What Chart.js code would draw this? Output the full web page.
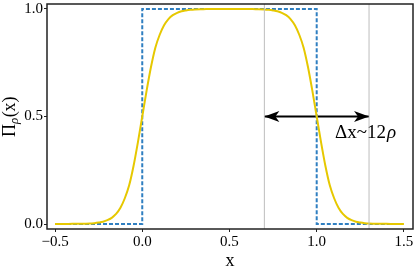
<!DOCTYPE html>
<html>
<head>
<meta charset="utf-8">
<script src="https://cdn.jsdelivr.net/npm/chart.js@4.4.1/dist/chart.umd.min.js"></script>
<style>
  html, body { margin: 0; padding: 0; background: #fff; }
  #wrap { width: 415px; height: 270px; }
</style>
</head>
<body>
<div id="wrap"><canvas id="c" width="415" height="270"></canvas></div>
<script>
// smoothed window Π_ρ(x)
const xVals = [-0.5, -0.45, -0.4, -0.35, -0.3, -0.275, -0.25, -0.225, -0.2, -0.175, -0.15, -0.125, -0.1, -0.075, -0.05, -0.025,
  0, 0.025, 0.05, 0.075, 0.1, 0.125, 0.15, 0.175, 0.2, 0.225, 0.25, 0.275, 0.3, 0.35, 0.4, 0.45, 0.5,
  0.55, 0.6, 0.65, 0.7, 0.725, 0.75, 0.775, 0.8, 0.825, 0.85, 0.875, 0.9, 0.925, 0.95, 0.975,
  1, 1.025, 1.05, 1.075, 1.1, 1.125, 1.15, 1.175, 1.2, 1.225, 1.25, 1.275, 1.3, 1.35, 1.4, 1.45, 1.5];
const piVals = [0, 0, 0.001, 0.001, 0.002, 0.004, 0.007, 0.011, 0.018, 0.029, 0.047, 0.076, 0.12, 0.18, 0.27, 0.38,
  0.5, 0.62, 0.73, 0.82, 0.88, 0.924, 0.953, 0.971, 0.982, 0.989, 0.993, 0.996, 0.998, 0.999, 1, 1, 1,
  1, 1, 0.999, 0.998, 0.996, 0.993, 0.989, 0.982, 0.971, 0.953, 0.924, 0.88, 0.82, 0.73, 0.62,
  0.5, 0.38, 0.27, 0.18, 0.12, 0.076, 0.047, 0.029, 0.018, 0.011, 0.007, 0.004, 0.002, 0.001, 0.001, 0, 0];

// sharp window
const rectX = [-0.5, 0, 0, 1, 1, 1.5];
const rectY = [0, 0, 1, 1, 0, 0];

// grey markers and arrow
const markX = [0.7, 1.3];
const arrowY = 0.5;
const arrowLabel = 'Δx~12';
const arrowLabelPos = [1.277, 0.423];

const xTicks = [-0.5, 0, 0.5, 1, 1.5];
const yTicks = [0, 0.5, 1];
const xMin = -0.546, xMax = 1.552, yMin = -0.023, yMax = 1.023;

const serif = '"Liberation Serif", "DejaVu Serif", serif';
const fmt = v => (v < 0 ? '\u2212' : '') + Math.abs(v).toFixed(1);

// no extra padding from tick labels
const noPad = s => { s.paddingTop = 0; s.paddingBottom = 0; s.paddingLeft = 0; s.paddingRight = 0; };

const extras = {
  id: 'extras',
  afterDatasetsDraw(chart) {
    const { ctx, chartArea: a, scales: { x, y } } = chart;
    ctx.save();

    // arrow heads
    const yy = y.getPixelForValue(arrowY);
    const head = (tipX, dir) => {
      ctx.beginPath();
      ctx.moveTo(tipX, yy);
      ctx.lineTo(tipX - dir * 15, yy - 5.5);
      ctx.lineTo(tipX - dir * 11, yy);
      ctx.lineTo(tipX - dir * 15, yy + 5.5);
      ctx.closePath();
      ctx.fillStyle = '#000';
      ctx.fill();
    };
    head(x.getPixelForValue(markX[0]), -1);
    head(x.getPixelForValue(markX[1]), 1);

    // arrow label
    ctx.fillStyle = '#000';
    ctx.textBaseline = 'middle';
    ctx.font = `19px ${serif}`;
    const w1 = ctx.measureText(arrowLabel).width;
    ctx.font = `italic 19px ${serif}`;
    const w2 = ctx.measureText('ρ').width;
    const lx = x.getPixelForValue(arrowLabelPos[0]) - (w1 + w2) / 2;
    const ly = y.getPixelForValue(arrowLabelPos[1]);
    ctx.font = `19px ${serif}`;
    ctx.fillText(arrowLabel, lx, ly);
    ctx.font = `italic 19px ${serif}`;
    ctx.fillText('ρ', lx + w1 + 1, ly);

    // frame
    ctx.strokeStyle = '#222';
    ctx.lineWidth = 1.5;
    ctx.strokeRect(a.left, a.top, a.right - a.left, a.bottom - a.top);

    // x title
    ctx.font = `18px ${serif}`;
    ctx.textAlign = 'center';
    ctx.fillText('x', (a.left + a.right) / 2, 261);

    // y title Π_ρ(x)
    ctx.textAlign = 'left';
    ctx.translate(10, 117);
    ctx.rotate(-Math.PI / 2);
    ctx.textBaseline = 'alphabetic';
    ctx.font = `18px ${serif}`;
    const pw = ctx.measureText('Π').width;
    const xw = ctx.measureText('(x)').width;
    ctx.font = `italic 13px ${serif}`;
    const rw = ctx.measureText('ρ').width;
    const tx = -(pw + rw + xw) / 2;
    ctx.font = `18px ${serif}`;
    ctx.fillText('Π', tx, 5);
    ctx.font = `italic 13px ${serif}`;
    ctx.fillText('ρ', tx + pw, 8);
    ctx.font = `18px ${serif}`;
    ctx.fillText('(x)', tx + pw + rw + 0.5, 5);

    ctx.restore();
  }
};

new Chart(document.getElementById('c'), {
  type: 'scatter',
  data: {
    datasets: [
      {
        data: markX.flatMap((v, i) => i ? [{ x: NaN, y: NaN }, { x: v, y: yMin }, { x: v, y: yMax }] : [{ x: v, y: yMin }, { x: v, y: yMax }]),
        showLine: true, borderColor: '#bdbdbd', borderWidth: 1, pointRadius: 0, spanGaps: false
      },
      {
        data: xVals.map((v, i) => ({ x: v, y: piVals[i] })),
        showLine: true, borderColor: '#e6c800', borderWidth: 2, pointRadius: 0,
        cubicInterpolationMode: 'monotone'
      },
      {
        data: rectX.map((v, i) => ({ x: v, y: rectY[i] })),
        showLine: true, borderColor: '#2f7fc1', borderWidth: 2, borderDash: [4, 2], pointRadius: 0
      },
      {
        data: markX.map(v => ({ x: v, y: arrowY })),
        showLine: true, borderColor: '#000', borderWidth: 2, pointRadius: 0
      }
    ]
  },
  options: {
    responsive: false,
    animation: false,
    layout: { autoPadding: false, padding: { top: 4, right: 2, left: 0, bottom: 0 } },
    plugins: { legend: { display: false }, tooltip: { enabled: false } },
    scales: {
      x: {
        type: 'linear', min: xMin, max: xMax,
        afterBuildTicks: s => { s.ticks = xTicks.map(v => ({ value: v })); },
        afterFit: s => { s.height = 41; noPad(s); },
        grid: { drawOnChartArea: false, tickLength: 3, color: '#222', lineWidth: 1 },
        border: { display: false },
        ticks: { callback: fmt, color: '#000', font: { family: serif, size: 15 }, padding: 1, maxRotation: 0 }
      },
      y: {
        type: 'linear', min: yMin, max: yMax,
        afterBuildTicks: s => { s.ticks = yTicks.map(v => ({ value: v })); },
        afterFit: s => { s.width = 47; noPad(s); },
        grid: { drawOnChartArea: false, tickLength: 3, color: '#222', lineWidth: 1 },
        border: { display: false },
        ticks: { callback: fmt, color: '#000', font: { family: serif, size: 15 }, padding: 1 }
      }
    }
  },
  plugins: [extras]
});
</script>
</body>
</html>
